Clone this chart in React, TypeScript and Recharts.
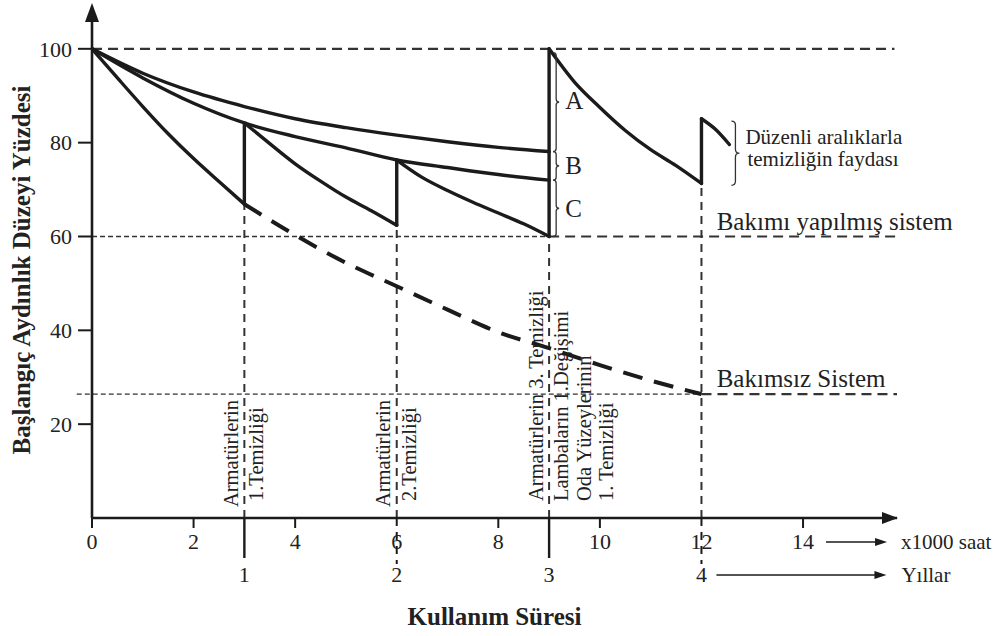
import React from "react";
import { LineChart, Line, XAxis, YAxis, ReferenceLine, ReferenceDot } from "recharts";

const FONT = "'Liberation Serif', 'DejaVu Serif', serif";
const INK = "#1b1b1b";
const GREY = "#333";

// x: kullanım süresi (x1000 saat), y: başlangıç aydınlık düzeyi yüzdesi
const hoursAB = [0, 1, 2, 3, 4, 5, 6, 7, 8, 9];
const curveA = [100, 94.8, 90.8, 87.7, 85.1, 83.2, 81.6, 80.2, 79.0, 78.1];
const curveB = [100, 93.8, 88.4, 84.2, 81.3, 78.9, 76.3, 74.7, 73.2, 72.0];

const seg1Hours = [0, 0.5, 1, 1.5, 2, 2.5, 3];
const seg1 = [100, 93.8, 87.7, 81.9, 76.6, 71.7, 66.9];
const seg2Hours = [3, 3.5, 4, 4.5, 5, 5.5, 6];
const seg2 = [84.2, 79.8, 75.5, 71.8, 68.4, 65.5, 62.4];
const seg3Hours = [6, 6.5, 7, 7.5, 8, 8.5, 9];
const seg3 = [76.3, 72.6, 69.8, 67.3, 65.0, 62.7, 60];
const seg4Hours = [9, 9.5, 10, 10.5, 11, 11.5, 12];
const seg4 = [100, 92.9, 87.5, 82.6, 78.5, 75.1, 71.3];
const seg5Hours = [12, 12.28, 12.55];
const seg5 = [85.1, 82.8, 79.6];

// bakımsız sistem
const noMaintHours = [3, 4, 5, 6, 7, 8, 9, 10, 11, 12];
const noMaint = [66.9, 60.3, 54.4, 49.4, 44.4, 39.6, 36.2, 32.6, 29.3, 26.4];

const LEVEL_FULL = 100;
const LEVEL_MAINTAINED = 60;
const LEVEL_UNMAINTAINED = 26.4;

const Y_TICKS = [20, 40, 60, 80, 100];
const HOUR_TICKS = [0, 2, 4, 6, 8, 10, 12, 14];
const YEAR_TICKS = [3, 6, 9, 12];
const YEAR_LABELS = ["1", "2", "3", "4"];
const X_TICKS = [0, 2, 3, 4, 6, 8, 9, 10, 12, 14];

const notes: { h: number; lines: string[] }[] = [
  { h: 3, lines: ["Armatürlerin", "1.Temizliği"] },
  { h: 6, lines: ["Armatürlerin", "2.Temizliği"] },
  { h: 9, lines: ["Armatürlerin 3. Temizliği", "Lambaların 1.Değişimi", "Oda Yüzeylerinin", "1. Temizliği"] },
];

const X_MAX = 15.85;
const Y_MAX = 108.7;

const pts = (hs: number[], vs: number[]) => hs.map((h, i) => ({ h, v: vs[i] }));

const segments = [pts(seg1Hours, seg1), pts(seg2Hours, seg2), pts(seg3Hours, seg3), pts(seg4Hours, seg4), pts(seg5Hours, seg5)];
const jumps = segments.slice(1).map((s, i) => {
  const prev = segments[i];
  return [prev[prev.length - 1], s[0]];
});

const abcBounds = [LEVEL_FULL, curveA[curveA.length - 1], curveB[curveB.length - 1], LEVEL_MAINTAINED];
const ABC = ["A", "B", "C"];

function bracePath(x: number, y1: number, y2: number, w: number) {
  const top = Math.min(y1, y2);
  const bot = Math.max(y1, y2);
  const m = (top + bot) / 2;
  const r = Math.min(w, (bot - top) / 4);
  return `M${x},${top} Q${x + w},${top} ${x + w},${top + r} L${x + w},${m - r} Q${x + w},${m} ${x + 2 * w},${m} Q${x + w},${m} ${x + w},${m + r} L${x + w},${bot - r} Q${x + w},${bot} ${x},${bot}`;
}

const braceShape = (w: number) => (p: any) => (
  <path d={bracePath(p.x1, p.y1, p.y2, w)} fill="none" stroke={GREY} strokeWidth={1.3} />
);

const textStyle = { fontFamily: FONT, fill: "#222" };

function XTick(props: any) {
  const { x, y, payload } = props;
  const v = payload.value;
  const isHour = HOUR_TICKS.includes(v);
  const yi = YEAR_TICKS.indexOf(v);
  const dashedYear = yi === 1 || yi === 3;
  return (
    <g>
      {isHour && yi < 0 && <line x1={x} x2={x} y1={y} y2={y + 10} stroke={INK} strokeWidth={2} />}
      {yi >= 0 && (
        <line
          x1={x}
          x2={x}
          y1={y}
          y2={y + (dashedYear ? 46 : 40)}
          stroke={INK}
          strokeWidth={dashedYear ? 2 : 2.4}
          strokeDasharray={dashedYear ? "8 6" : undefined}
        />
      )}
      {isHour && (
        <text x={x} y={y + 31} textAnchor="middle" fontSize={22} style={textStyle}>
          {v}
        </text>
      )}
      {yi >= 0 && (
        <text x={x} y={y + 64} textAnchor="middle" fontSize={22} style={textStyle}>
          {YEAR_LABELS[yi]}
        </text>
      )}
      {v === 14 && (
        <g>
          <line x1={x + 23} x2={x + 80} y1={y + 24} y2={y + 24} stroke={INK} strokeWidth={1.6} />
          <polygon points={`${x + 84},${y + 24} ${x + 72},${y + 20} ${x + 72},${y + 28}`} fill={INK} />
          <text x={x + 98} y={y + 31} fontSize={21} style={textStyle}>
            x1000 saat
          </text>
        </g>
      )}
      {v === 12 && (
        <g>
          <line x1={x + 15} x2={x + 180} y1={y + 57} y2={y + 57} stroke={INK} strokeWidth={1.6} />
          <polygon points={`${x + 185},${y + 57} ${x + 173},${y + 53} ${x + 173},${y + 61}`} fill={INK} />
          <text x={x + 200} y={y + 64} fontSize={21} style={textStyle}>
            Yıllar
          </text>
        </g>
      )}
    </g>
  );
}

const COL_DX = [-13.5, 12, 34.5, 57];

export default function App() {
  const lineProps = {
    dataKey: "v",
    stroke: INK,
    strokeWidth: 3.4,
    dot: false,
    activeDot: false,
    isAnimationActive: false,
    strokeLinecap: "round" as const,
  };

  return (
    <div style={{ position: "absolute", left: 0, top: 0, width: 998, height: 636, background: "#fff", fontFamily: FONT }}>
      <LineChart width={998} height={636} margin={{ top: 8, right: 101, bottom: 0, left: 0 }} style={{ fontFamily: FONT }}>
        <XAxis
          type="number"
          dataKey="h"
          domain={[0, X_MAX]}
          allowDataOverflow
          ticks={X_TICKS}
          interval={0}
          height={118}
          tickLine={false}
          tickSize={0}
          tickMargin={0}
          axisLine={{ stroke: INK, strokeWidth: 2.6 }}
          tick={(p: any) => <XTick {...p} />}
          label={{
            content: (p: any) => {
              const vb = p.viewBox;
              return (
                <text x={vb.x + vb.width / 2} y={vb.y + 107} textAnchor="middle" fontSize={25} fontWeight="bold" style={textStyle}>
                  Kullanım Süresi
                </text>
              );
            },
          }}
        />
        <YAxis
          type="number"
          domain={[0, Y_MAX]}
          allowDataOverflow
          ticks={Y_TICKS}
          width={92}
          tickSize={14}
          tickMargin={6}
          tickLine={{ stroke: INK, strokeWidth: 2 }}
          axisLine={{ stroke: INK, strokeWidth: 2.6 }}
          tick={{ fontSize: 22, fill: "#222", fontFamily: FONT }}
          label={{
            content: (p: any) => {
              const vb = p.viewBox;
              const cx = 21;
              const cy = vb.y + vb.height / 2 + 7;
              return (
                <text
                  x={cx}
                  y={cy}
                  transform={`rotate(-90 ${cx} ${cy})`}
                  textAnchor="middle"
                  dominantBaseline="central"
                  fontSize={25}
                  fontWeight="bold"
                  style={textStyle}
                >
                  Başlangıç Aydınlık Düzeyi Yüzdesi
                </text>
              );
            },
          }}
        />

        {/* yatay seviye çizgileri */}
        <ReferenceLine
          segment={[{ x: 0, y: LEVEL_FULL }, { x: X_MAX - 0.05, y: LEVEL_FULL }]}
          stroke={GREY}
          strokeWidth={2.2}
          strokeDasharray="10 6"
          ifOverflow="visible"
        />
        <ReferenceLine
          segment={[{ x: 0, y: LEVEL_MAINTAINED }, { x: 9, y: LEVEL_MAINTAINED }]}
          stroke={GREY}
          strokeWidth={1.3}
          strokeDasharray="5 3"
          ifOverflow="visible"
        />
        <ReferenceLine
          segment={[{ x: 9, y: LEVEL_MAINTAINED }, { x: X_MAX, y: LEVEL_MAINTAINED }]}
          stroke={GREY}
          strokeWidth={2.2}
          strokeDasharray="10 6"
          ifOverflow="visible"
        />
        <ReferenceLine
          segment={[{ x: -0.3, y: LEVEL_UNMAINTAINED }, { x: 12, y: LEVEL_UNMAINTAINED }]}
          stroke={GREY}
          strokeWidth={1.3}
          strokeDasharray="5 3"
          ifOverflow="visible"
        />
        <ReferenceLine
          segment={[{ x: 12, y: LEVEL_UNMAINTAINED }, { x: X_MAX, y: LEVEL_UNMAINTAINED }]}
          stroke={GREY}
          strokeWidth={2.2}
          strokeDasharray="10 6"
          ifOverflow="visible"
        />

        {/* temizlik anları */}
        {jumps.map((j, i) => (
          <ReferenceLine
            key={`v${i}`}
            segment={[{ x: j[0].h, y: 0 }, { x: j[0].h, y: i === 0 ? noMaint[0] : j[0].v }]}
            stroke={GREY}
            strokeWidth={2}
            strokeDasharray="8 6"
            ifOverflow="visible"
          />
        ))}

        {notes.map((n) => (
          <ReferenceDot
            key={`n${n.h}`}
            x={n.h}
            y={0}
            ifOverflow="visible"
            shape={(p: any) => (
              <g>
                {n.lines.map((t, k) => {
                  const x = p.cx + COL_DX[k];
                  const y = p.cy - (k === 0 && n.h !== 9 ? 11 : 17);
                  return (
                    <text
                      key={k}
                      x={x}
                      y={y}
                      transform={`rotate(-90 ${x} ${y})`}
                      dominantBaseline="central"
                      fontSize={20.5}
                      style={textStyle}
                    >
                      {t}
                    </text>
                  );
                })}
              </g>
            )}
          />
        ))}

        <Line data={pts(hoursAB, curveA)} type="monotone" {...lineProps} />
        <Line data={pts(hoursAB, curveB)} type="monotone" {...lineProps} />
        {segments.map((s, i) => (
          <Line key={`s${i}`} data={s} type="monotone" {...lineProps} />
        ))}
        {jumps.map((j, i) => (
          <Line key={`j${i}`} data={j} type="linear" {...lineProps} />
        ))}
        <Line
          data={pts(noMaintHours, noMaint)}
          type="monotone"
          {...lineProps}
          strokeWidth={4}
          strokeDasharray="20 12"
          strokeLinecap="butt"
        />

        {/* A B C farkları */}
        {ABC.map((l, i) => (
          <ReferenceLine
            key={`b${l}`}
            segment={[{ x: 9.08, y: abcBounds[i] - (i === 0 ? 0.8 : 0) }, { x: 9.08, y: abcBounds[i + 1] }]}
            shape={braceShape(3)}
            ifOverflow="visible"
          />
        ))}
        {ABC.map((l, i) => (
          <ReferenceDot
            key={`l${l}`}
            x={9.08}
            y={(abcBounds[i] + abcBounds[i + 1]) / 2}
            ifOverflow="visible"
            shape={(p: any) => (
              <text x={p.cx + 12} y={p.cy} dominantBaseline="central" fontSize={25} style={textStyle}>
                {l}
              </text>
            )}
          />
        ))}

        <ReferenceLine segment={[{ x: 12.59, y: 84.6 }, { x: 12.59, y: 70.9 }]} shape={braceShape(4)} ifOverflow="visible" />
        <ReferenceDot
          x={12.59}
          y={77.75}
          ifOverflow="visible"
          shape={(p: any) => (
            <g>
              <text x={p.cx + 14} y={p.cy - 9} fontSize={21} style={textStyle}>
                Düzenli aralıklarla
              </text>
              <text x={p.cx + 16} y={p.cy + 13} fontSize={21} style={textStyle}>
                temizliğin faydası
              </text>
            </g>
          )}
        />

        <ReferenceDot
          x={12.3}
          y={LEVEL_MAINTAINED}
          ifOverflow="visible"
          shape={(p: any) => (
            <text x={p.cx} y={p.cy - 6} fontSize={25} style={textStyle}>
              Bakımı yapılmış sistem
            </text>
          )}
        />
        <ReferenceDot
          x={12.3}
          y={LEVEL_UNMAINTAINED}
          ifOverflow="visible"
          shape={(p: any) => (
            <text x={p.cx} y={p.cy - 7} fontSize={25} style={textStyle}>
              Bakımsız Sistem
            </text>
          )}
        />

        {/* eksen okları */}
        <ReferenceDot
          x={0}
          y={Y_MAX}
          ifOverflow="visible"
          shape={(p: any) => <polygon points={`${p.cx},${p.cy - 5} ${p.cx - 7},${p.cy + 14} ${p.cx + 7},${p.cy + 14}`} fill={INK} />}
        />
        <ReferenceDot
          x={X_MAX}
          y={0}
          ifOverflow="visible"
          shape={(p: any) => <polygon points={`${p.cx + 1},${p.cy} ${p.cx - 15},${p.cy - 6} ${p.cx - 15},${p.cy + 6}`} fill={INK} />}
        />
      </LineChart>
    </div>
  );
}
